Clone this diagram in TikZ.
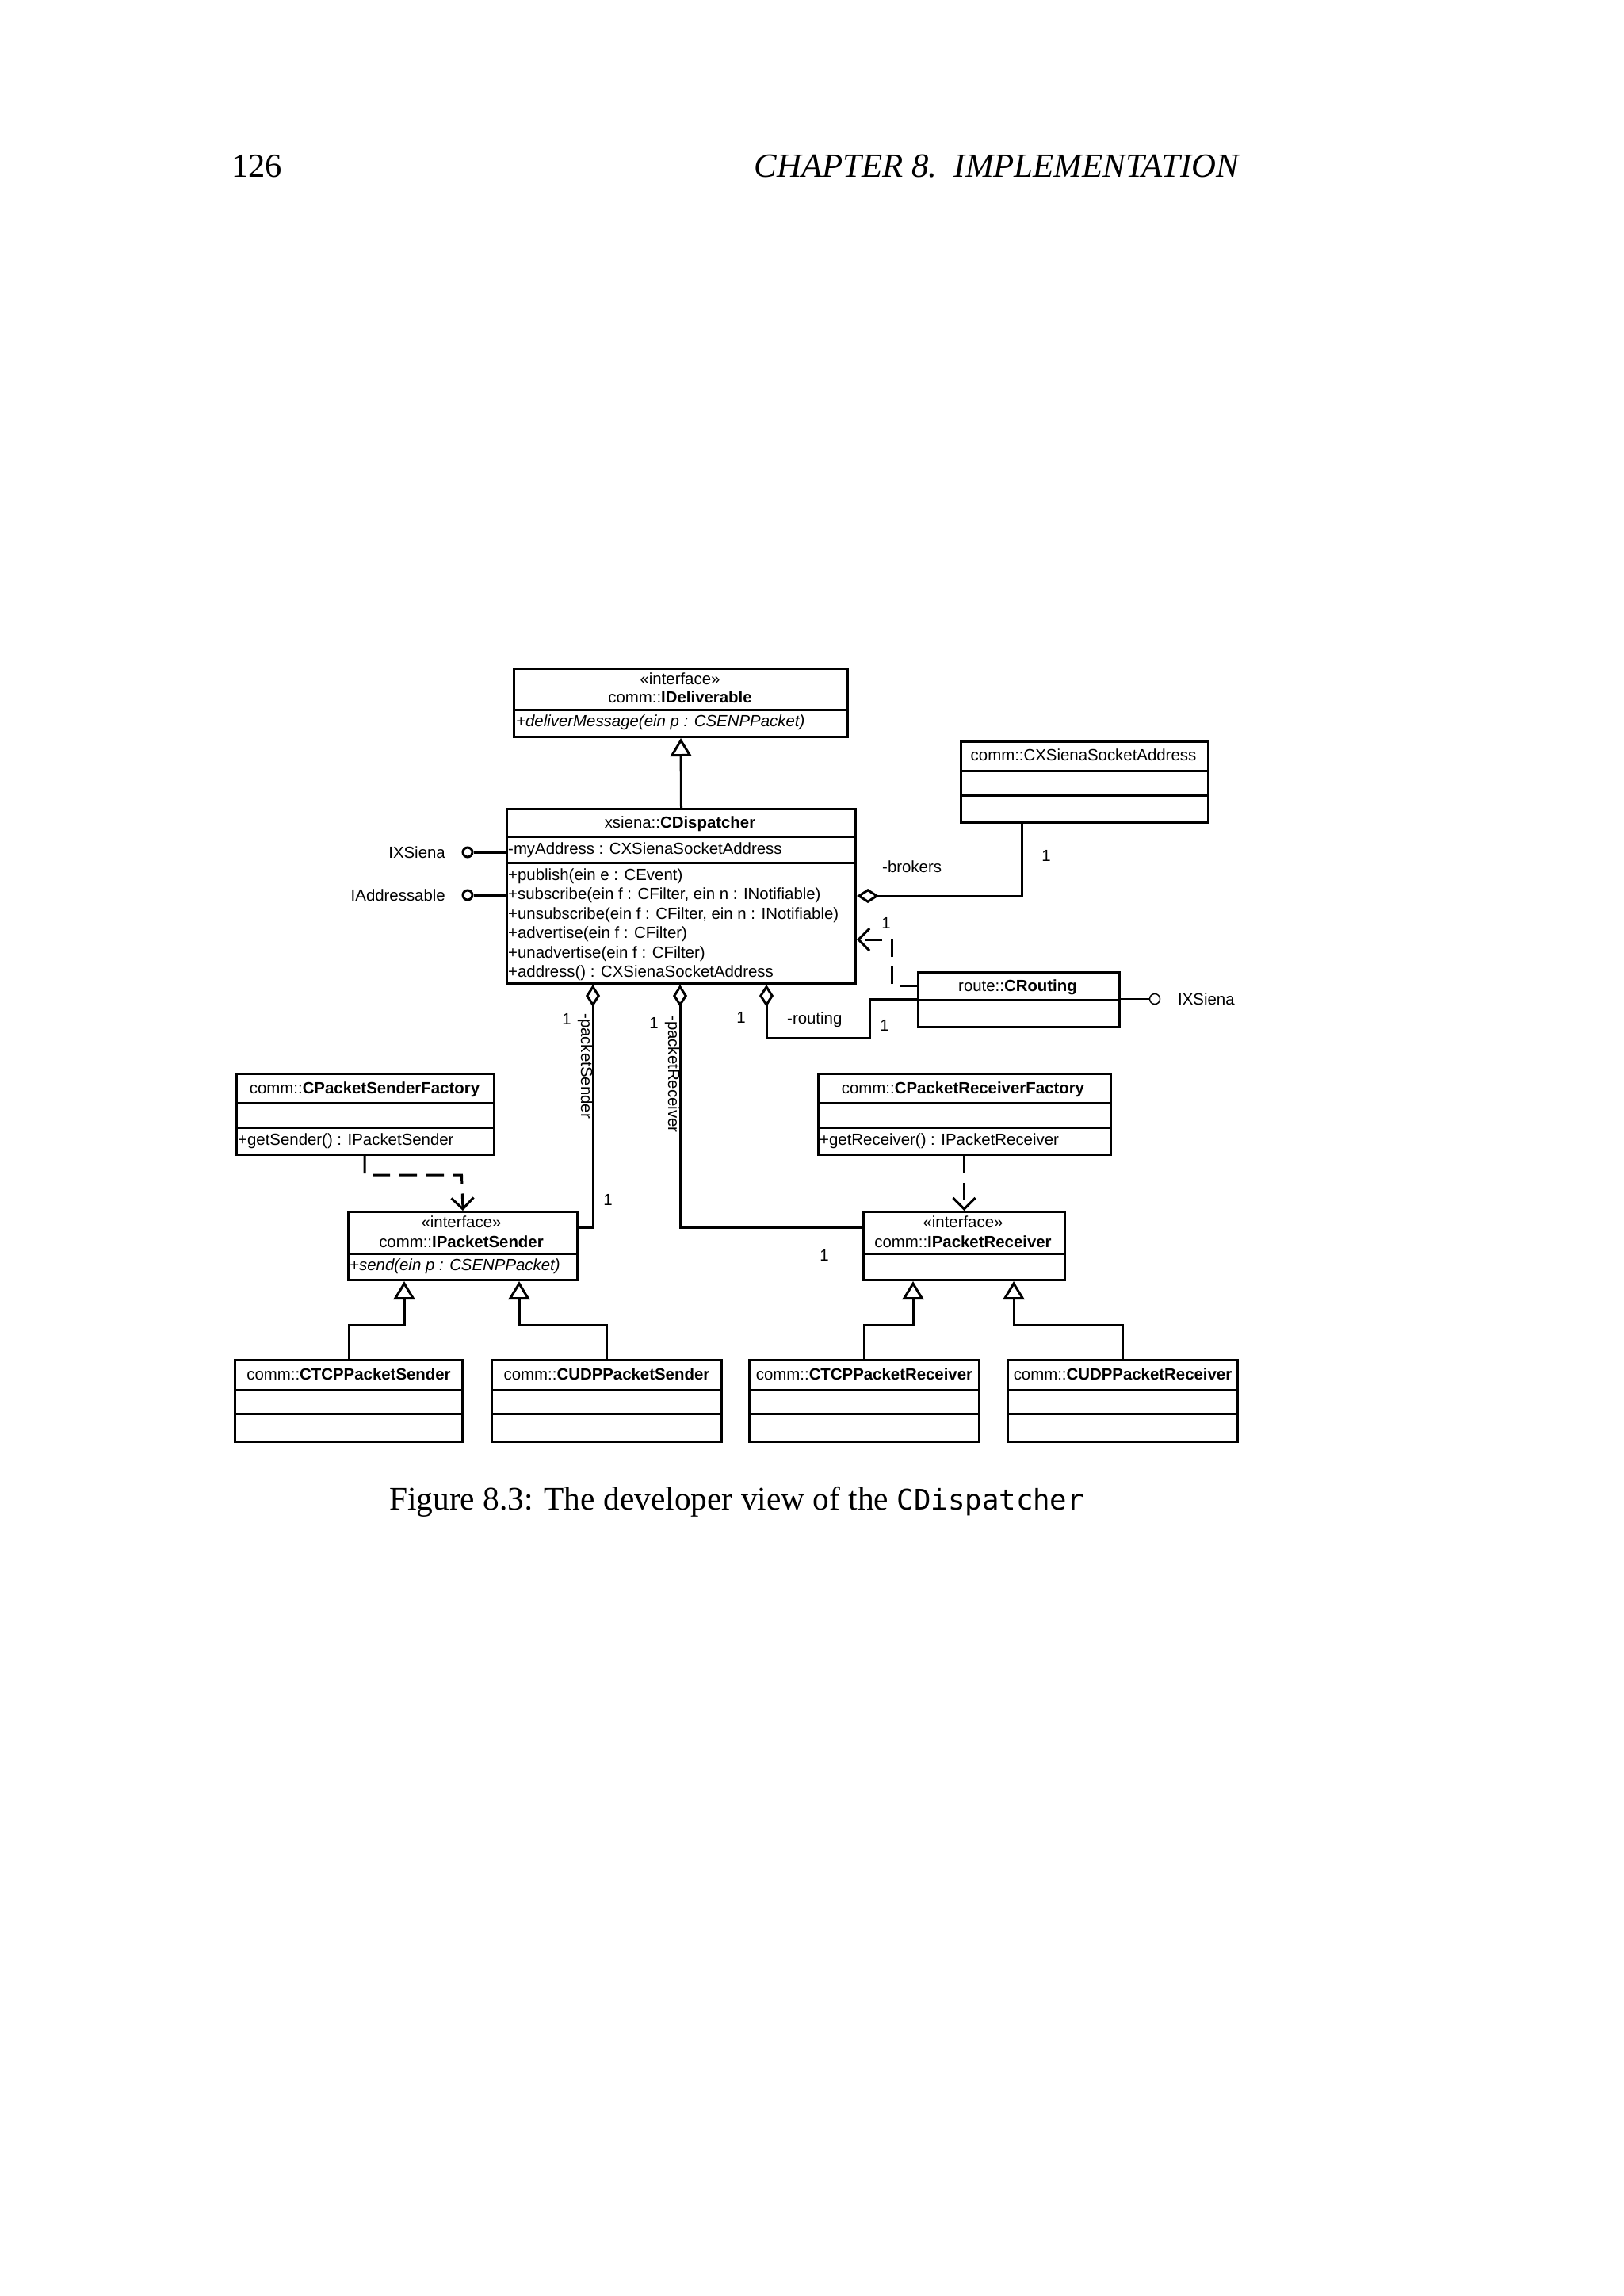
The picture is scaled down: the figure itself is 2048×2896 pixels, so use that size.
\documentclass[tikz,border=0pt]{standalone}
\usepackage{fontspec}
\setmainfont{Liberation Serif}
\newfontfamily\umlsans{Liberation Sans}
\newfontfamily\capmono{DejaVu Sans Mono}
\usetikzlibrary{arrows.meta}
\newcommand\umlfont{\umlsans\fontsize{20.4}{24.5}\selectfont}
\begin{document}
\begin{tikzpicture}[x=1pt,y=-1pt, line join=miter,
  cls/.style={draw, line width=3pt, inner sep=0pt, anchor=north west},
  sepline/.style={line width=3pt},
  lbl/.style={inner sep=0pt, font=\umlfont, anchor=base},
  lblw/.style={lbl, anchor=base west},
  lble/.style={lbl, anchor=base east},
  conn/.style={line width=3pt},
  gen/.style={conn, -{Triangle[open, length=23pt, width=27pt]}},
  agg/.style={conn, {Diamond[open, length=28pt, width=18pt]}-},
  dep/.style={conn, dash pattern=on 22pt off 12pt, -{Straight Barb[length=14pt, width=28pt]}},
  lolli/.style={circle, draw, line width=3pt, minimum size=12pt, inner sep=0pt},
  lollithin/.style={circle, draw, line width=1.5pt, minimum size=13pt, inner sep=0pt},
  pagetext/.style={inner sep=0pt, font=\fontsize{42.5}{50}\selectfont}
]
\fill[white] (0,0) rectangle (2048,2896);
\useasboundingbox (0,0) rectangle (2048,2896);

% header
\node[pagetext, anchor=base west] (pg) at (292,223) {126};
\node[pagetext, anchor=base east, font=\fontsize{42.8}{50}\selectfont\itshape] (chap) at (1563,223) {CHAPTER 8.\ \ IMPLEMENTATION};

% IDeliverable
\node[cls, minimum width=421pt, minimum height=86pt] (idel) at (647,842) {};
\draw[sepline] (idel.west |- 0,895) -- (idel.east |- 0,895);
\node[lbl] (idel1) at (858,863) {«interface»};
\node[lbl] (idel2) at (858,886) {comm::\textbf{IDeliverable}};
\node[lblw] (idel3) at (651,916) {\itshape +deliverMessage(ein p : CSENPPacket)};

% CDispatcher
\node[cls, minimum width=440pt, minimum height=220pt] (disp) at (638,1019) {};
\draw[sepline] (disp.west |- 0,1055) -- (disp.east |- 0,1055);
\draw[sepline] (disp.west |- 0,1088) -- (disp.east |- 0,1088);
\node[lbl] (disp0) at (858,1044) {xsiena::\textbf{CDispatcher}};
\node[lblw] (disp1) at (641,1077) {-myAddress : CXSienaSocketAddress};
\node[lblw] (disp2) at (641,1110) {+publish(ein e : CEvent)};
\node[lblw] (disp3) at (641,1134.5) {+subscribe(ein f : CFilter, ein n : INotifiable)};
\node[lblw] (disp4) at (641,1159) {+unsubscribe(ein f : CFilter, ein n : INotifiable)};
\node[lblw] (disp5) at (641,1183.5) {+advertise(ein f : CFilter)};
\node[lblw] (disp6) at (641,1208) {+unadvertise(ein f : CFilter)};
\node[lblw] (disp7) at (641,1232.5) {+address() : CXSienaSocketAddress};
\draw[gen] (disp.north) -- (idel.south);

% provided interfaces of CDispatcher
\node[lolli] (lolA) at (590,1075) {};
\draw[conn] (lolA) -- (lolA -| disp.west);
\node[lble] (lolAt) at (562,1082) {IXSiena};
\node[lolli] (lolB) at (590,1129) {};
\draw[conn] (lolB) -- (lolB -| disp.west);
\node[lble] (lolBt) at (562,1136) {IAddressable};

% CXSienaSocketAddress
\node[cls, minimum width=312pt, minimum height=102pt] (cxs) at (1211,934) {};
\draw[sepline] (cxs.west |- 0,972) -- (cxs.east |- 0,972);
\draw[sepline] (cxs.west |- 0,1003) -- (cxs.east |- 0,1003);
\node[lbl] (cxs0) at (1367,959) {comm::CXSienaSocketAddress};
\draw[agg] (disp.east |- 0,1130) -| (cxs.south -| 1289,0);
\node[lblw] (brk) at (1113,1100) {-brokers};
\node[lbl] (brk1) at (1320,1086) {1};

% CRouting
\node[cls, minimum width=254pt, minimum height=69pt] (rout) at (1157,1225) {};
\draw[sepline] (rout.west |- 0,1261) -- (rout.east |- 0,1261);
\node[lbl] (rout0) at (1284,1250) {route::\textbf{CRouting}};
\node[lollithin] (lolC) at (1457,1260) {};
\draw[line width=1.5pt] (lolC -| rout.east) -- (lolC);
\node[lblw] (lolCt) at (1486,1267) {IXSiena};
\draw[dep] (rout.west |- 0,1243) -| (1125,1185) -- (disp.east |- 0,1185);
\node[lbl] (dep1) at (1118,1171) {1};
\draw[agg] (disp.south -| 967,0) |- (1097,1309) |- (rout.west |- 0,1260);
\node[lblw] (routl) at (993,1291) {-routing};
\node[lbl] (rout1) at (935,1290) {1};
\node[lbl] (rout2) at (1116,1300) {1};

% IPacketSender
\node[cls, minimum width=289pt, minimum height=86pt] (ips) at (438,1527) {};
\draw[sepline] (ips.west |- 0,1581) -- (ips.east |- 0,1581);
\node[lbl] (ips1) at (582,1548) {«interface»};
\node[lbl] (ips2) at (582,1573) {comm::\textbf{IPacketSender}};
\node[lblw] (ips3) at (441,1602) {\itshape +send(ein p : CSENPPacket)};

% IPacketReceiver
\node[cls, minimum width=254pt, minimum height=86pt] (ipr) at (1088,1527) {};
\draw[sepline] (ipr.west |- 0,1581) -- (ipr.east |- 0,1581);
\node[lbl] (ipr1) at (1215,1548) {«interface»};
\node[lbl] (ipr2) at (1215,1573) {comm::\textbf{IPacketReceiver}};

% aggregations to packet sender / receiver
\draw[agg] (disp.south -| 748,0) |- (ips.east |- 0,1548);
\node[lbl] (ps1) at (715,1292) {1};
\node[lbl, rotate=-90, anchor=north west] (psl) at (748,1278) {-packetSender};
\node[lbl] (ps2) at (767,1520) {1};
\draw[agg] (disp.south -| 858,0) |- (ipr.west |- 0,1548);
\node[lbl] (pr1) at (825,1297) {1};
\node[lbl, rotate=-90, anchor=north west] (prl) at (858,1281) {-packetReceiver};
\node[lbl] (pr2) at (1040,1590) {1};

% CPacketSenderFactory
\node[cls, minimum width=325pt, minimum height=102pt] (psf) at (297,1353) {};
\draw[sepline] (psf.west |- 0,1391) -- (psf.east |- 0,1391);
\draw[sepline] (psf.west |- 0,1422) -- (psf.east |- 0,1422);
\node[lbl] (psf0) at (460,1379) {comm::\textbf{CPacketSenderFactory}};
\node[lblw] (psf1) at (300,1444) {+getSender() : IPacketSender};
\draw[dep] (psf.south -| 460,0) |- (582.5,1482) -- (ips.north);

% CPacketReceiverFactory
\node[cls, minimum width=369pt, minimum height=102pt] (prf) at (1031,1353) {};
\draw[sepline] (prf.west |- 0,1391) -- (prf.east |- 0,1391);
\draw[sepline] (prf.west |- 0,1422) -- (prf.east |- 0,1422);
\node[lbl] (prf0) at (1215,1379) {comm::\textbf{CPacketReceiverFactory}};
\node[lblw] (prf1) at (1034,1444) {+getReceiver() : IPacketReceiver};
\draw[dep] (prf.south -| ipr.north) -- (ipr.north);

% concrete classes
\foreach \nm/\xx/\ww/\txt in {ctcps/295/287/CTCPPacketSender, cudps/619/290/CUDPPacketSender, ctcpr/944/290/CTCPPacketReceiver, cudpr/1270/290/CUDPPacketReceiver}{
  \node[cls, minimum width=\ww pt, minimum height=103pt] (\nm) at (\xx,1714) {};
  \draw[sepline] (\nm.west |- 0,1753) -- (\nm.east |- 0,1753);
  \draw[sepline] (\nm.west |- 0,1783) -- (\nm.east |- 0,1783);
  \node[lbl] (\nm t) at (\nm.north |- 0,1740) {comm::\textbf{\txt}};
}
\draw[gen] (ctcps.north) |- (510,1671) -- (ips.south -| 510,0);
\draw[gen] (cudps.north) |- (655,1671) -- (ips.south -| 655,0);
\draw[gen] (ctcpr.north) |- (1152,1671) -- (ipr.south -| 1152,0);
\draw[gen] (cudpr.north) |- (1279,1671) -- (ipr.south -| 1279,0);

% caption
\node[inner sep=0pt, anchor=base west, font=\fontsize{41.4}{48}\selectfont] (cap) at (491,1904) {Figure 8.3: The developer view of the {\capmono\fontsize{35.7}{48}\selectfont CDispatcher}};
\end{tikzpicture}
\end{document}
